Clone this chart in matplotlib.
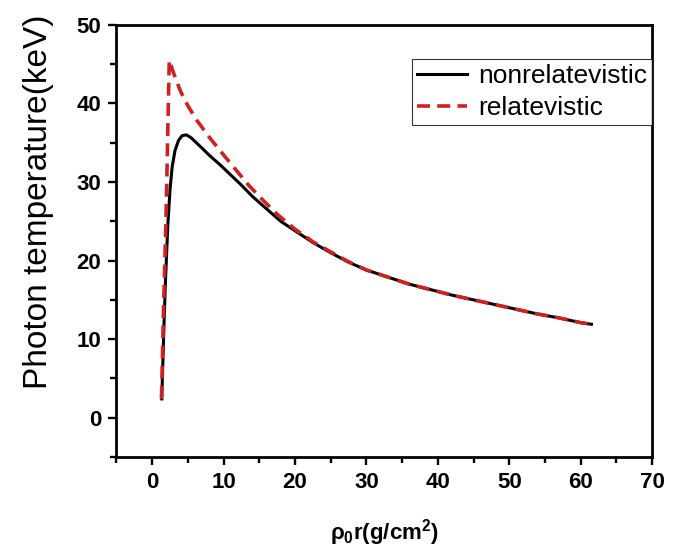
import numpy as np
import matplotlib
matplotlib.use("Agg")
import matplotlib.pyplot as plt
from matplotlib.ticker import MultipleLocator

# values
x_nonrel = [1.35, 1.45, 1.55, 1.7, 1.85, 2.0, 2.2, 2.5, 2.8, 3.2, 3.7, 4.2, 4.8,
            5.5, 6.3, 7.0, 8.0, 9.5, 11.0, 12.5, 14.0, 16.0, 18.0, 20.0, 22.5,
            25.0, 27.5, 30.0, 33.0, 36.0, 39.0, 42.0, 45.0, 48.0, 51.0, 54.0,
            57.0, 60.0, 61.5]
y_nonrel = [2.4, 5.5, 8.5, 13.0, 17.0, 20.3, 24.6, 29.0, 31.9, 34.0, 35.3, 35.9,
            36.0, 35.6, 34.9, 34.3, 33.4, 32.2, 30.9, 29.6, 28.2, 26.6, 25.0,
            23.8, 22.3, 21.0, 19.8, 18.8, 17.9, 17.0, 16.3, 15.6, 15.0, 14.4,
            13.8, 13.2, 12.7, 12.1, 11.9]

x_rel = [1.3, 1.4, 1.5, 1.6, 1.75, 1.9, 2.05, 2.2, 2.4, 2.8, 3.3, 4.0, 5.0, 6.3,
         8.0, 9.5, 11.5, 13.5, 15.5, 17.5, 20.0, 22.5, 25.0, 27.5, 30.0, 33.0,
         36.0, 39.0, 42.0, 45.0, 48.0, 51.0, 54.0, 57.0, 60.0, 61.5]
y_rel = [2.4, 6.0, 10.0, 14.0, 19.0, 24.0, 30.0, 37.0, 45.5, 44.4, 43.1, 41.5,
         39.7, 37.8, 35.7, 34.0, 31.8, 29.6, 27.7, 25.9, 24.0, 22.4, 21.1, 19.85,
         18.8, 17.9, 17.0, 16.3, 15.6, 15.0, 14.4, 13.8, 13.2, 12.7, 12.1, 11.9]

plt.rcParams['font.family'] = ['Liberation Sans', 'DejaVu Sans']
plt.rcParams['mathtext.default'] = 'regular'

fig = plt.figure(figsize=(6.73, 5.52), dpi=100)
ax = fig.add_axes([0.173, 0.172, 0.796, 0.783])

ax.plot(x_nonrel, y_nonrel, color='black', lw=2.2, label='nonrelatevistic')
ax.plot(x_rel, y_rel, color='#d02020', lw=2.6, dashes=(3.6, 2.0),
        label='relatevistic')

ax.set_xlim(-5, 70)
ax.set_ylim(-5, 50)
ax.xaxis.set_major_locator(MultipleLocator(10))
ax.xaxis.set_minor_locator(MultipleLocator(5))
ax.yaxis.set_major_locator(MultipleLocator(10))
ax.yaxis.set_minor_locator(MultipleLocator(5))

for s in ax.spines.values():
    s.set_linewidth(2.0)
ax.tick_params(which='major', direction='out', length=6, width=1.7,
               labelsize=16, pad=5)
ax.tick_params(which='minor', direction='out', length=4, width=1.7)
for lab in ax.get_xticklabels() + ax.get_yticklabels():
    lab.set_fontweight('bold')

ax.set_ylabel('Photon temperature(keV)', fontsize=24, va='center')
ax.yaxis.set_label_coords(-0.145, 0.59)
ax.set_xlabel('ρ$_0$r(g/cm$^2$)', fontsize=16, fontweight='bold', va='center')
ax.xaxis.set_label_coords(0.5, -0.175)

leg = ax.legend(loc='upper right', bbox_to_anchor=(1.0, 0.921), fontsize=19,
                frameon=True, fancybox=False, edgecolor='black',
                handlelength=1.9, handletextpad=0.4, borderpad=0.2,
                labelspacing=0.3, borderaxespad=0)
leg.get_frame().set_linewidth(0.8)

fig.savefig('out.png', dpi=100)
